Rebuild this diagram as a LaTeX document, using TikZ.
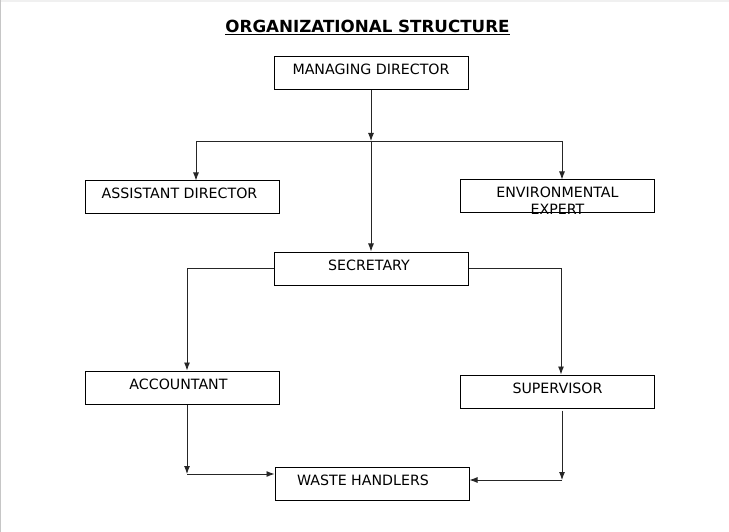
\documentclass[tikz,border=0pt]{standalone}
\usepackage{fontspec}
\setmainfont{DejaVu Sans}
\usetikzlibrary{arrows.meta}
\begin{document}
\begin{tikzpicture}[
    x=1pt, y=-1pt,
    box/.style={draw, line width=1pt, minimum width=194pt, minimum height=33pt,
                inner sep=0pt, text height=10pt, text depth=7pt,
                font=\fontsize{14.2}{16.5}\selectfont},
    link/.style={line width=0.9pt, draw=black!85},
    arr/.style={link, -{Latex[length=8pt,width=6pt]}}
]
\useasboundingbox (0,0) rectangle (729,532);
\fill[gray!12] (0,0) rectangle (729,2);
\fill[gray!45] (0,0) rectangle (1.2,532);

\node[font=\bfseries\fontsize{16.7}{19}\selectfont] (title) at (367.5,27)
    {\underline{ORGANIZATIONAL STRUCTURE}};

\node[box] (md)  at (371,73.5)  {MANAGING DIRECTOR};
\node[box] (ad)  at (182.5,197.5) {ASSISTANT DIRECTOR\hspace*{6pt}};
\node[box] (ee)  at (557.5,196.5)
    {\begin{tabular}[t]{@{}c@{}}ENVIRONMENTAL\\EXPERT\end{tabular}};
\node[box] (sec) at (371,268.5) {SECRETARY\hspace*{4pt}};
\node[box] (acc) at (182.5,387.5) {ACCOUNTANT\hspace*{8pt}};
\node[box] (sup) at (557.5,391.5) {SUPERVISOR};
\node[box] (wh)  at (372,483.5) {WASTE HANDLERS\hspace*{18pt}};

\coordinate (splitL) at (196,141);
\coordinate (splitR) at (562,141);
\coordinate (lx) at (187,0);
\coordinate (rx) at (561,0);
\coordinate (accdrop) at (187,474);
\coordinate (supdrop) at (562,480);

\draw[arr] (md) -- (md |- splitL);
\draw[link] (splitL) -- (splitR);
\draw[arr] (splitL) -- (splitL |- ad.north);
\draw[arr] (splitR) -- (splitR |- ee.north);
\draw[arr] (md |- splitL) -- (sec);

\draw[arr] (sec.west) -| (lx |- acc.north);
\draw[arr] (sec.east) -| (rx |- sup.north);

\draw[arr] (lx |- acc.south) -- (accdrop);
\draw[arr] (accdrop) -- (accdrop -| wh.west);
\draw[arr] ([yshift=-2pt]supdrop |- sup.south) -- (supdrop);
\draw[arr] (supdrop) -- (supdrop -| wh.east);

\end{tikzpicture}
\end{document}
